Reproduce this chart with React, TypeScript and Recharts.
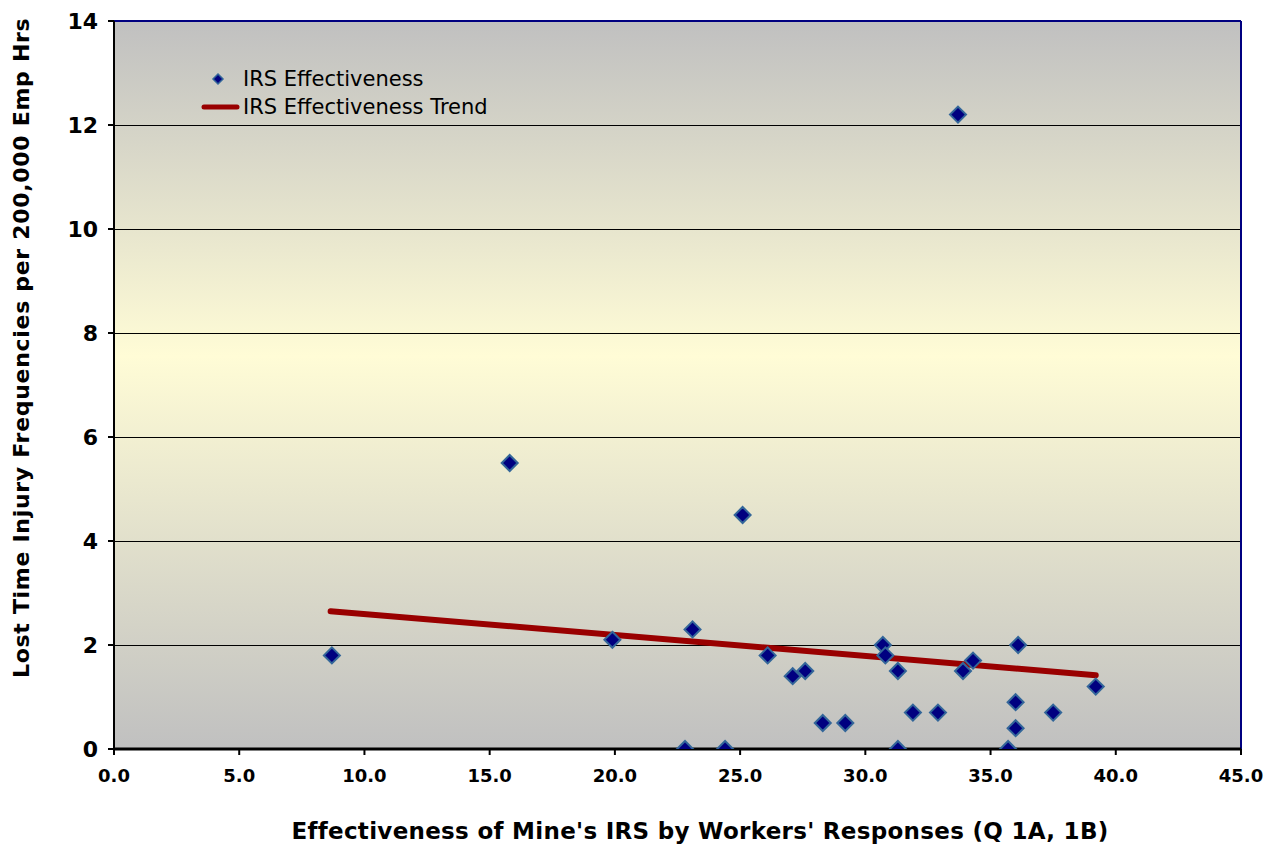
import React from "react";
import {
  ScatterChart,
  Scatter,
  XAxis,
  YAxis,
  CartesianGrid,
  ReferenceLine,
} from "recharts";

// ─── Data ────────────────────────────────────────────────────────────────────

const irsScores = [
  8.7, 15.8, 19.9, 22.8, 23.1, 24.4, 25.1, 26.1, 27.1, 27.6, 28.3, 29.2, 30.7,
  30.8, 31.3, 31.3, 31.9, 32.9, 33.7, 33.9, 34.3, 35.7, 36.0, 36.0, 36.1, 37.5,
  39.2,
];

const ltiFrequencies = [
  1.8, 5.5, 2.1, 0, 2.3, 0, 4.5, 1.8, 1.4, 1.5, 0.5, 0.5, 2.0, 1.8, 1.5, 0, 0.7,
  0.7, 12.2, 1.5, 1.7, 0, 0.9, 0.4, 2.0, 0.7, 1.2,
];

const trendX = [8.65, 39.2];
const trendY = [2.65, 1.42];

const xTicks = [0, 5, 10, 15, 20, 25, 30, 35, 40, 45];
const yTicks = [0, 2, 4, 6, 8, 10, 12, 14];

const SERIES_NAME = "IRS Effectiveness";
const TREND_NAME = "IRS Effectiveness Trend";
const X_TITLE = "Effectiveness of Mine's IRS by Workers' Responses (Q 1A, 1B)";
const Y_TITLE = "Lost Time Injury Frequencies per 200,000 Emp Hrs";

// ─── Constants ───────────────────────────────────────────────────────────────

const FONT = '"DejaVu Sans", Verdana, sans-serif';
const MARKER_FILL = "#000080";
const MARKER_STROKE = "#336699";
const TREND_COLOR = "#990000";

const pointData = irsScores.map((x, i) => ({ x, y: ltiFrequencies[i] }));
const trendData = trendX.map((x, i) => ({ x, y: trendY[i] }));

// ─── Shapes ──────────────────────────────────────────────────────────────────

function Diamond(props: any) {
  const { cx, cy } = props;
  const r = 8;
  return (
    <polygon
      points={`${cx},${cy - r} ${cx + r},${cy} ${cx},${cy + r} ${cx - r},${cy}`}
      fill={MARKER_FILL}
      stroke={MARKER_STROKE}
      strokeWidth={2}
    />
  );
}

const NoDot = () => <g />;

// ─── Component ───────────────────────────────────────────────────────────────

export default function App() {
  return (
    <div
      style={{
        position: "absolute",
        left: 0,
        top: 0,
        width: 1278,
        height: 846,
        background: "#fff",
        fontFamily: FONT,
      }}
    >
      <ScatterChart
        width={1278}
        height={846}
        margin={{ top: 21, right: 37, left: 0, bottom: 0 }}
      >
        <defs>
          <linearGradient id="plotBg" x1="0" y1="0" x2="0" y2="1">
            <stop offset="0%" stopColor="#c0c0c0" />
            <stop offset="46%" stopColor="#fffcd6" />
            <stop offset="100%" stopColor="#c0c0c0" />
          </linearGradient>
        </defs>
        <CartesianGrid
          vertical={false}
          stroke="#000"
          strokeWidth={1}
          shapeRendering="crispEdges"
          fill="url(#plotBg)"
          fillOpacity={1}
        />
        <XAxis
          type="number"
          dataKey="x"
          domain={[0, 45]}
          ticks={xTicks}
          interval={0}
          height={97}
          allowDataOverflow
          tickFormatter={(v: number) => v.toFixed(1)}
          tick={{ fontSize: 18, fontWeight: "bold", fill: "#000", fontFamily: FONT }}
          tickSize={6}
          tickMargin={14}
          axisLine={{ stroke: "#000", strokeWidth: 3 }}
          tickLine={{ stroke: "#000", strokeWidth: 2 }}
          label={() => (
            <text
              x={700}
              y={839}
              textAnchor="middle"
              fontFamily={FONT}
              fontWeight="bold"
              fontSize={23}
              letterSpacing={0.3}
              fill="#000"
            >
              {X_TITLE}
            </text>
          )}
        />
        <YAxis
          type="number"
          dataKey="y"
          domain={[0, 14]}
          ticks={yTicks}
          interval={0}
          width={114}
          allowDataOverflow
          tick={{ fontSize: 22, fontWeight: "bold", fill: "#000", fontFamily: FONT }}
          tickSize={6}
          tickMargin={10}
          axisLine={{ stroke: "#000", strokeWidth: 2 }}
          tickLine={{ stroke: "#000", strokeWidth: 2 }}
          label={() => (
            <text
              x={29}
              y={678}
              transform="rotate(-90, 29, 678)"
              textAnchor="start"
              fontFamily={FONT}
              fontWeight="bold"
              fontSize={22}
              letterSpacing={0.7}
              fill="#000"
            >
              {Y_TITLE}
            </text>
          )}
        />
        <ReferenceLine y={14} stroke="#000080" strokeWidth={2} />
        <ReferenceLine x={45} stroke="#000080" strokeWidth={2} />
        <Scatter
          name={TREND_NAME}
          data={trendData}
          line={{ stroke: TREND_COLOR, strokeWidth: 6, strokeLinecap: "round" }}
          lineType="joint"
          shape={NoDot}
          isAnimationActive={false}
        />
        <Scatter
          name={SERIES_NAME}
          data={pointData}
          shape={Diamond}
          isAnimationActive={false}
        />
      </ScatterChart>

      {/* Legend — sits inside the plot area, top left */}
      <div
        style={{
          position: "absolute",
          left: 200,
          top: 65,
          fontSize: 21,
          color: "#000",
          lineHeight: "28px",
        }}
      >
        <div style={{ display: "flex", alignItems: "center" }}>
          <svg width={40} height={28}>
            <polygon
              points="18,9 23,14 18,19 13,14"
              fill={MARKER_FILL}
              stroke={MARKER_STROKE}
              strokeWidth={1.5}
            />
          </svg>
          <span style={{ marginLeft: 3 }}>{SERIES_NAME}</span>
        </div>
        <div style={{ display: "flex", alignItems: "center" }}>
          <svg width={40} height={28}>
            <line
              x1={4}
              y1={14}
              x2={37}
              y2={14}
              stroke={TREND_COLOR}
              strokeWidth={5}
              strokeLinecap="round"
            />
          </svg>
          <span style={{ marginLeft: 3 }}>{TREND_NAME}</span>
        </div>
      </div>
    </div>
  );
}
